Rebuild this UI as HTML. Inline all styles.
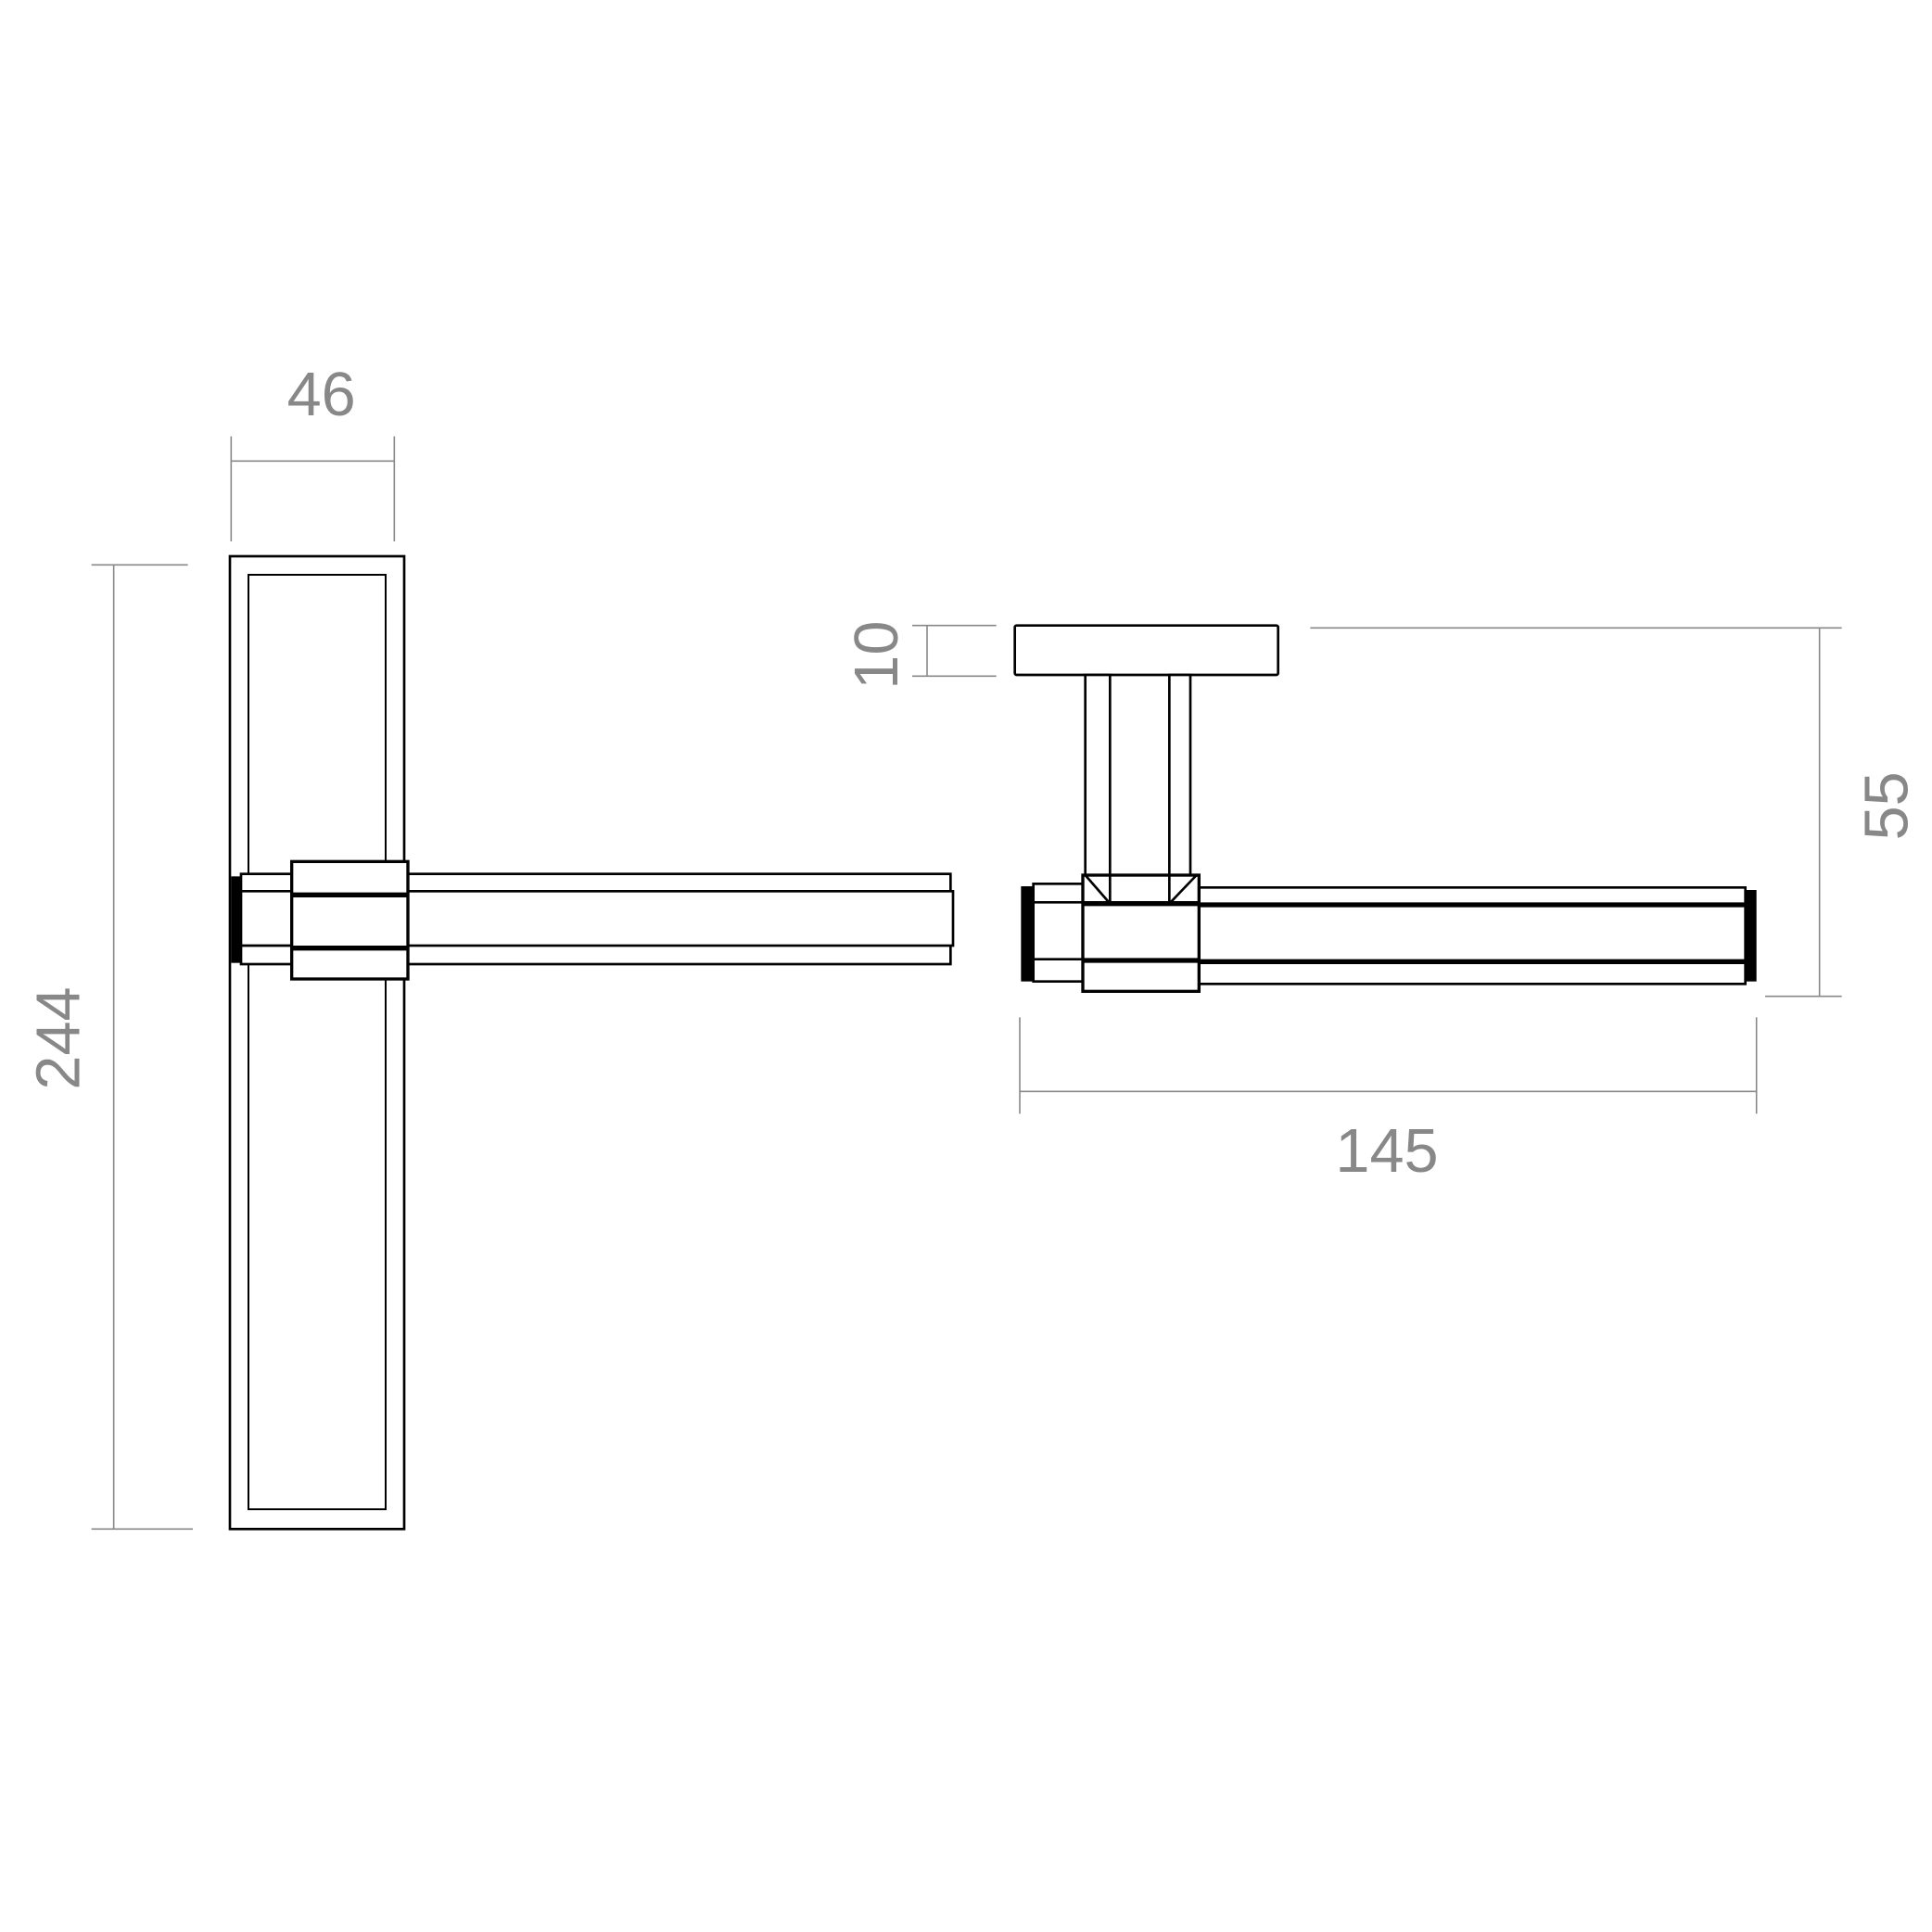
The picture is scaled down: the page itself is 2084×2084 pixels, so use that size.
<!DOCTYPE html>
<html><head><style>html,body{margin:0;padding:0;background:#fff}svg{display:block}</style></head>
<body>
<svg width="2084" height="2084" viewBox="0 0 1563 1563" xmlns="http://www.w3.org/2000/svg">
<rect width="1563" height="1563" fill="#fff"/>
<g fill="none" stroke="#888" stroke-width="1.2">
<line x1="187" y1="353" x2="187" y2="438"/><line x1="319" y1="353" x2="319" y2="438"/><line x1="187" y1="373" x2="319" y2="373"/>
<line x1="74" y1="457" x2="152" y2="457"/><line x1="74" y1="1237" x2="156" y2="1237"/><line x1="92" y1="457" x2="92" y2="1237"/>
<line x1="738" y1="506" x2="806" y2="506"/><line x1="738" y1="547" x2="806" y2="547"/><line x1="750" y1="506" x2="750" y2="547"/>
<line x1="1060" y1="508" x2="1490" y2="508"/><line x1="1428" y1="806" x2="1490" y2="806"/><line x1="1472" y1="508" x2="1472" y2="806"/>
<line x1="825" y1="823" x2="825" y2="901"/><line x1="1421" y1="823" x2="1421" y2="901"/><line x1="825" y1="883" x2="1421" y2="883"/>
</g>
<g font-family="Liberation Sans, sans-serif" font-size="50" fill="#888" text-anchor="middle">
<text x="260" y="336">46</text>
<text x="1122" y="948">145</text>
<text transform="translate(64,840) rotate(-90)">244</text>
<text transform="translate(726,530) rotate(-90)">10</text>
<text transform="translate(1543,652) rotate(-90)">55</text>
</g>
<g fill="#fff" stroke="#000" stroke-width="2">
<!-- left view -->
<rect x="186" y="450" width="141" height="787"/>
<rect x="201" y="465" width="111" height="756" stroke-width="1.5"/>
<rect x="195" y="707" width="41" height="73"/>
<line x1="195" y1="721" x2="236" y2="721"/><line x1="195" y1="765" x2="236" y2="765"/>
<rect x="330" y="707" width="439" height="73"/>
<rect x="330" y="721" width="441" height="44"/>
<rect x="236" y="697" width="94" height="95" stroke-width="2.5"/>
<line x1="236" y1="724" x2="330" y2="724" stroke-width="4"/><line x1="236" y1="767" x2="330" y2="767" stroke-width="4"/>
<rect x="187" y="709" width="8" height="70" fill="#000" stroke="none"/>
<!-- right view -->
<rect x="821" y="506" width="213" height="40" rx="1.5"/>
<rect x="878" y="546" width="20" height="162"/>
<rect x="946" y="546" width="17" height="162"/>
<rect x="836" y="715" width="40" height="79"/>
<line x1="836" y1="730" x2="876" y2="730"/><line x1="836" y1="776" x2="876" y2="776"/>
<rect x="970" y="718" width="442" height="78"/>
<line x1="970" y1="732" x2="1412" y2="732" stroke-width="4"/><line x1="970" y1="778" x2="1412" y2="778" stroke-width="4"/>
<rect x="876" y="708" width="94" height="94" stroke-width="2.5"/>
<line x1="876" y1="731" x2="970" y2="731" stroke-width="4"/><line x1="876" y1="777" x2="970" y2="777" stroke-width="4"/>
<line x1="878" y1="708" x2="898" y2="731"/><line x1="898" y1="708" x2="898" y2="731"/>
<line x1="946" y1="708" x2="946" y2="731"/><line x1="968" y1="708" x2="946" y2="731"/>
<rect x="826" y="717" width="10" height="77" fill="#000" stroke="none"/>
<rect x="1412" y="720" width="9" height="74" fill="#000" stroke="none"/>
</g>
</svg>
</body></html>
